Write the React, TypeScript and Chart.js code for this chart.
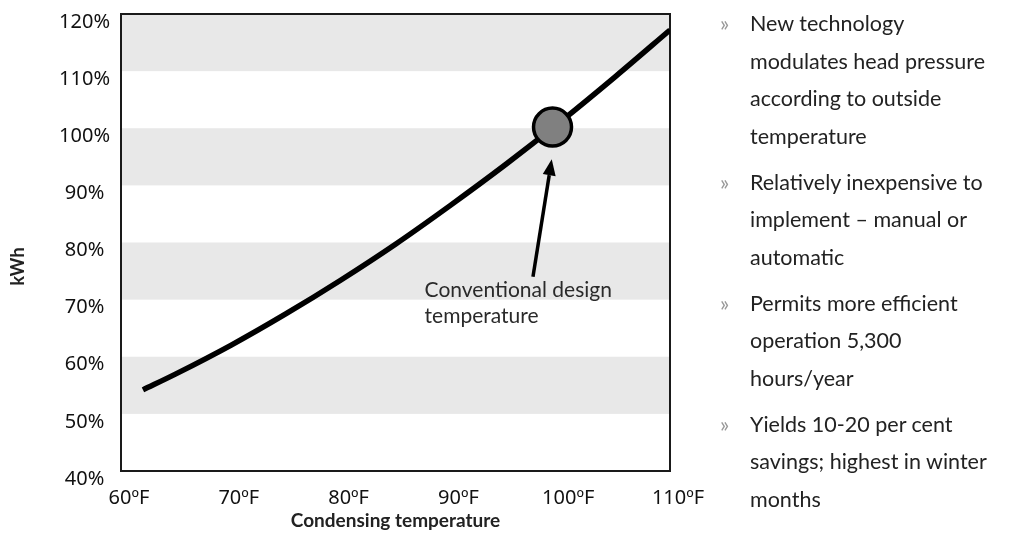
import React, { useEffect, useRef } from "react";
import { Chart, registerables } from "chart.js";

Chart.register(...registerables);

// ---- data ----
const temperaturesF = [62, 65, 70, 75, 80, 85, 90, 95, 100, 105, 110];
const kwhPercent = [54.2, 57.0, 62.0, 67.5, 73.4, 79.7, 86.5, 93.6, 101.1, 109.0, 117.2];
const designPointF = 99.3;
const designPointPct = 100.2;
const shadedBandsPct = [
  [110, 120],
  [90, 100],
  [70, 80],
  [50, 60],
];
const xAxisMin = 60;
const xAxisMax = 110;
const yAxisMin = 40;
const yAxisMax = 120;
const tickStep = 10;
const xAxisTitle = "Condensing temperature";
const yAxisTitle = "kWh";
const annotationLines = ["Conventional design", "temperature"];
const annotationAt = { x: 87.65, y: 71.6 };
const arrowFrom = { x: 97.52, y: 74.0 };
const arrowTo = { x: 99.23, y: 94.56 };
const notes = [
  ["New technology", "modulates head pressure", "according to outside", "temperature"],
  ["Relatively inexpensive to", "implement \u2013 manual or", "automatic"],
  ["Permits more efficient", "operation 5,300", "hours/year"],
  ["Yields 10-20 per cent", "savings; highest in winter", "months"],
];

const TEXT_FONT = "Lato, 'Noto Sans', sans-serif";
const TICK_FONT = "'Noto Sans', 'Open Sans', sans-serif";

const decorPlugin = {
  id: "decor",
  beforeDatasetsDraw(chart: any) {
    const { ctx, chartArea, scales } = chart;
    const y = scales.y;
    ctx.save();
    ctx.fillStyle = "#e8e8e8";
    for (const [lo, hi] of shadedBandsPct) {
      const top = y.getPixelForValue(hi);
      const bottom = y.getPixelForValue(lo);
      ctx.fillRect(chartArea.left, top, chartArea.right - chartArea.left, bottom - top);
    }
    ctx.strokeStyle = "#1a1a1a";
    ctx.lineWidth = 2;
    ctx.strokeRect(chartArea.left, chartArea.top, chartArea.right - chartArea.left, chartArea.bottom - chartArea.top);
    ctx.restore();
  },
  afterDatasetsDraw(chart: any) {
    const { ctx, scales, chartArea } = chart;
    const x = scales.x;
    const y = scales.y;
    const x0 = x.getPixelForValue(arrowFrom.x);
    const y0 = y.getPixelForValue(arrowFrom.y);
    const x1 = x.getPixelForValue(arrowTo.x);
    const y1 = y.getPixelForValue(arrowTo.y);
    const ang = Math.atan2(y1 - y0, x1 - x0);
    const headLen = 16;
    const headHalf = 6.5;
    const bx = x1 - headLen * Math.cos(ang);
    const by = y1 - headLen * Math.sin(ang);
    ctx.save();
    ctx.strokeStyle = "#000";
    ctx.fillStyle = "#000";
    ctx.lineWidth = 3.5;
    ctx.beginPath();
    ctx.moveTo(x0, y0);
    ctx.lineTo(bx, by);
    ctx.stroke();
    ctx.beginPath();
    ctx.moveTo(x1, y1);
    ctx.lineTo(bx + headHalf * Math.sin(ang), by - headHalf * Math.cos(ang));
    ctx.lineTo(bx - headHalf * Math.sin(ang), by + headHalf * Math.cos(ang));
    ctx.closePath();
    ctx.fill();

    ctx.fillStyle = "#2a2a2a";
    ctx.font = `21px ${TEXT_FONT}`;
    ctx.textAlign = "left";
    ctx.textBaseline = "middle";
    const tx = x.getPixelForValue(annotationAt.x);
    const ty = y.getPixelForValue(annotationAt.y);
    annotationLines.forEach((line, i) => ctx.fillText(line, tx, ty + i * 26));

    // y-axis title (sits a little below the plot's middle in the reference)
    ctx.translate(18, (chartArea.top + chartArea.bottom) / 2 + 24);
    ctx.rotate(-Math.PI / 2);
    ctx.textAlign = "center";
    ctx.fillStyle = "#222";
    ctx.font = `bold 18px ${TEXT_FONT}`;
    ctx.fillText(yAxisTitle, 0, 0);
    ctx.restore();
  },
};

export default function App() {
  const canvasRef = useRef<HTMLCanvasElement | null>(null);

  useEffect(() => {
    const canvas = canvasRef.current;
    if (!canvas) return;
    const chart = new Chart(canvas, {
      type: "scatter",
      data: {
        datasets: [
          {
            label: "design",
            data: [{ x: designPointF, y: designPointPct }],
            pointRadius: 19,
            pointHoverRadius: 19,
            backgroundColor: "#808080",
            borderColor: "#000",
            borderWidth: 3.5,
            showLine: false,
          },
          {
            label: "kWh",
            data: temperaturesF.map((t, i) => ({ x: t, y: kwhPercent[i] })),
            showLine: true,
            borderColor: "#000",
            borderWidth: 5.5,
            borderCapStyle: "butt",
            pointRadius: 0,
            pointHoverRadius: 0,
            cubicInterpolationMode: "monotone",
            fill: false,
          },
        ],
      },
      options: {
        responsive: false,
        animation: false,
        layout: { autoPadding: false, padding: { left: 0, top: 14, right: 344, bottom: 0 } },
        plugins: {
          legend: { display: false },
          tooltip: { enabled: false },
        },
        scales: {
          x: {
            type: "linear",
            min: xAxisMin,
            max: xAxisMax,
            grid: { display: false },
            border: { display: false },
            ticks: {
              stepSize: tickStep,
              padding: 7,
              labelOffset: 8,
              color: "#111",
              font: { family: TICK_FONT, size: 20 },
              callback: (v: any) => `${v}\u00baF`,
            },
            title: {
              display: true,
              text: xAxisTitle,
              color: "#222",
              font: { family: TEXT_FONT, size: 19, weight: "bold" },
              padding: { top: 0, bottom: 13 },
            },
            afterFit: (scale: any) => {
              scale.height = 74;
            },
          },
          y: {
            type: "linear",
            min: yAxisMin,
            max: yAxisMax,
            grid: { display: false },
            border: { display: false },
            ticks: {
              stepSize: tickStep,
              padding: 3,
              labelOffset: 8,
              crossAlign: "center",
              color: "#111",
              font: { family: TICK_FONT, size: 20, lineHeight: 0.4 },
              callback: (v: any) => `${v}%`,
            },
            afterFit: (scale: any) => {
              scale.width = 121;
            },
          },
        },
      },
      plugins: [decorPlugin],
    });
    return () => chart.destroy();
  }, []);

  return (
    <div style={{ position: "absolute", left: 0, top: 0, width: 1014, height: 545, background: "#fff", overflow: "hidden" }}>
      <canvas ref={canvasRef} width={1014} height={545} style={{ position: "absolute", left: 0, top: 0 }} />
      <div style={{ position: "absolute", left: 720, top: 5, fontFamily: TEXT_FONT, fontSize: 21.5, color: "#222", lineHeight: "37.5px" }}>
        {notes.map((lines, i) => (
          <div key={i} style={{ position: "relative", paddingLeft: 30, marginBottom: 8.5, whiteSpace: "nowrap" }}>
            <span style={{ position: "absolute", left: 0, top: 0, color: "#999" }}>{"\u00bb"}</span>
            {lines.map((l, j) => (
              <div key={j}>{l}</div>
            ))}
          </div>
        ))}
      </div>
    </div>
  );
}
